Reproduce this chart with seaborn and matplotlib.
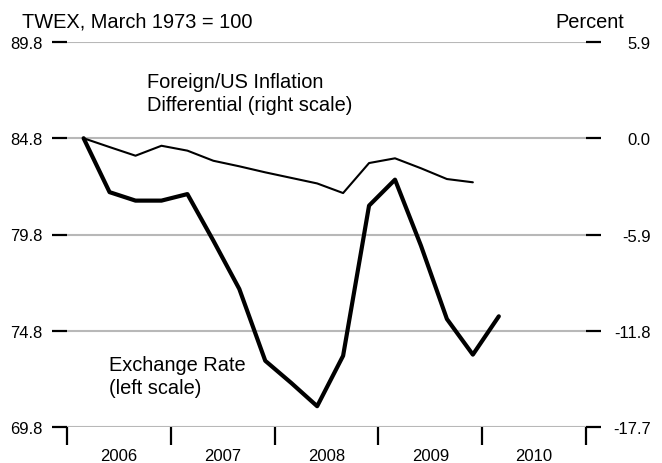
import matplotlib
matplotlib.use("Agg")
import matplotlib.pyplot as plt
import seaborn as sns
import pandas as pd

# Quarterly observations, 2006Q1 - 2010Q1
quarters = ["2006Q1", "2006Q2", "2006Q3", "2006Q4",
            "2007Q1", "2007Q2", "2007Q3", "2007Q4",
            "2008Q1", "2008Q2", "2008Q3", "2008Q4",
            "2009Q1", "2009Q2", "2009Q3", "2009Q4",
            "2010Q1"]

# Trade-weighted exchange index (left scale)
exchange_rate = [84.8, 82.0, 81.56, 81.56, 81.9, 79.48, 76.97, 73.24,
                 72.09, 70.88, 73.5, 81.3, 82.65, 79.22, 75.41, 73.56,
                 75.55]

# Foreign/US inflation differential, percent (right scale)
inflation_diff = [0.0, -0.54, -1.07, -0.46, -0.76, -1.38, -1.72, -2.09,
                  -2.43, -2.77, -3.36, -1.52, -1.23, -1.84, -2.5, -2.7]

left_ticks = [69.8, 74.8, 79.8, 84.8, 89.8]
right_ticks = [-17.7, -11.8, -5.9, 0.0, 5.9]
years = [2006, 2007, 2008, 2009, 2010]


def quarter_pos(label):
    year, q = label.split("Q")
    return int(year) + 0.25 * (int(q) - 1) + 0.16


xpos = [quarter_pos(q) for q in quarters]
df_fx = pd.DataFrame({"x": xpos, "y": exchange_rate})
df_inf = pd.DataFrame({"x": xpos[:len(inflation_diff)], "y": inflation_diff})

sns.set_style("white")
plt.rcParams["font.family"] = ["Liberation Sans", "DejaVu Sans"]
plt.rcParams["text.color"] = "black"
plt.rcParams["xtick.color"] = "black"
plt.rcParams["ytick.color"] = "black"
plt.rcParams["xtick.labelcolor"] = "black"
plt.rcParams["ytick.labelcolor"] = "black"

W, H = 662, 464
fig = plt.figure(figsize=(W / 100, H / 100), dpi=100)
ax = fig.add_axes([67 / W, 36 / H, (586 - 67) / W, (428 - 43) / H])
ax2 = ax.twinx()

sns.lineplot(data=df_fx, x="x", y="y", ax=ax, color="black", linewidth=3.0)
sns.lineplot(data=df_inf, x="x", y="y", ax=ax2, color="black", linewidth=1.5)

ax.set_xlim(2006, 2011)
ax.set_ylim(69.8, 89.8)
ax2.set_ylim(-17.7, 5.9)

for a in (ax, ax2):
    for s in a.spines.values():
        s.set_visible(False)
    a.set_xlabel("")
    a.set_ylabel("")

# Horizontal gridlines at the left-scale ticks
for v in left_ticks:
    ax.axhline(v, color="#b8b8b8", linewidth=1.5, zorder=0)

ax.set_yticks(left_ticks)
ax.set_yticklabels([f"{v:.1f}" for v in left_ticks])
ax.tick_params(axis="y", left=True, direction="out", length=11, width=1.6,
               color="black", pad=6.5, labelsize=12)

ax2.set_yticks(right_ticks)
ax2.set_yticklabels([f"{v:.1f}" for v in right_ticks])
ax2.tick_params(axis="y", right=True, direction="out", length=10.5,
                width=1.6, color="black", pad=36, labelsize=12)
for t in ax2.get_yticklabels():
    t.set_horizontalalignment("right")

# Year boundaries as major ticks, year names centred between them
ax.set_xticks(years + [2011])
ax.set_xticklabels([])
ax.set_xticks([y + 0.5 for y in years], minor=True)
ax.set_xticklabels([str(y) for y in years], minor=True)
ax.tick_params(axis="x", which="major", bottom=True, direction="out",
               length=13, width=1.6, color="black")
ax.tick_params(axis="x", which="minor", bottom=True, length=0, pad=15,
               labelsize=12)

# Annotations
fs = 14.4
fig.text(22 / W, 1 - 28 / H, "TWEX, March 1973 = 100", fontsize=fs,
         ha="left", va="baseline")
fig.text(624 / W, 1 - 28 / H, "Percent", fontsize=fs, ha="right",
         va="baseline")
fig.text(147 / W, 1 - 88 / H, "Foreign/US Inflation", fontsize=fs,
         ha="left", va="baseline")
fig.text(147 / W, 1 - 111 / H, "Differential (right scale)", fontsize=fs,
         ha="left", va="baseline")
fig.text(109 / W, 1 - 371 / H, "Exchange Rate", fontsize=fs,
         ha="left", va="baseline")
fig.text(109 / W, 1 - 394 / H, "(left scale)", fontsize=fs,
         ha="left", va="baseline")

fig.savefig("out.png", dpi=100)
